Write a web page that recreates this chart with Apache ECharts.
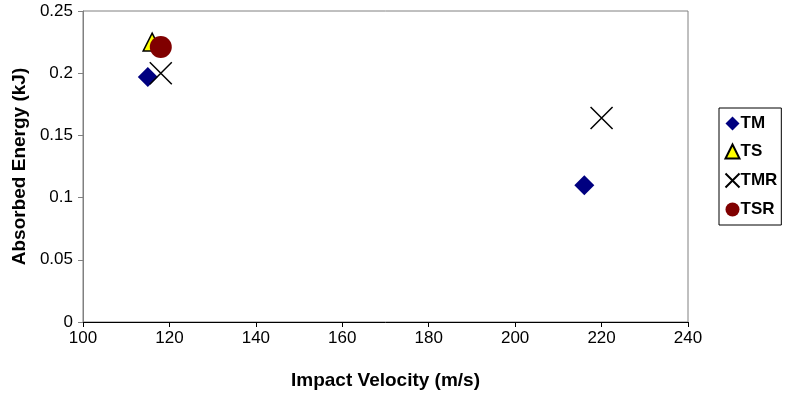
<!DOCTYPE html>
<html>
<head>
<meta charset="utf-8">
<script src="https://cdn.jsdelivr.net/npm/echarts@6/dist/echarts.min.js"></script>
<style>
html, body { margin: 0; padding: 0; background: #fff; }
#main { width: 800px; height: 404px; }
</style>
</head>
<body>
<div id="main"></div>
<script>
// data
var tmData = [[115, 0.197], [216, 0.110]];
var tsData = [[116, 0.225]];
var tmrData = [[118, 0.200], [220, 0.164]];
var tsrData = [[118, 0.221]];
var seriesNames = ['TM', 'TS', 'TMR', 'TSR'];

var crossPath = 'path://M0,0L10,10M10,0L0,10';

var myChart = echarts.init(document.getElementById('main'));
var option = {
    animation: false,
    textStyle: { fontFamily: 'Liberation Sans, Arial, sans-serif' },
    grid: {
        left: 83, right: 112, top: 11, bottom: 82,
        show: true, borderColor: '#808080', borderWidth: 1
    },
    legend: {
        orient: 'vertical',
        left: 719, top: 108,
        data: seriesNames,
        padding: [7, 4, 7, 4],
        itemGap: 11,
        itemWidth: 14, itemHeight: 14,
        borderColor: '#000', borderWidth: 1,
        textStyle: { fontSize: 17, fontWeight: 'bold', color: '#000', padding: [0, 0, 0, -4] }
    },
    xAxis: {
        type: 'value', min: 100, max: 240, interval: 20,
        name: 'Impact Velocity (m/s)', nameLocation: 'middle', nameGap: 49,
        nameTextStyle: { fontSize: 19, fontWeight: 'bold', color: '#000' },
        axisLine: { onZero: false, lineStyle: { color: '#000', width: 1 } },
        axisTick: { show: true, length: 5, lineStyle: { color: '#000' } },
        axisLabel: { fontSize: 17, color: '#000', margin: 8 },
        splitLine: { show: false }
    },
    yAxis: {
        type: 'value', min: 0, max: 0.25, interval: 0.05,
        name: 'Absorbed Energy (kJ)', nameLocation: 'middle', nameGap: 53,
        nameTextStyle: { fontSize: 19, fontWeight: 'bold', color: '#000' },
        axisLine: { show: true, lineStyle: { color: '#808080', width: 1 } },
        axisTick: { show: true, length: 5, lineStyle: { color: '#808080' } },
        axisLabel: { fontSize: 17, color: '#000', margin: 10 },
        splitLine: { show: false }
    },
    series: [
        {
            name: 'TM', type: 'scatter', data: tmData,
            symbol: 'diamond', symbolSize: 20,
            itemStyle: { color: '#000080', opacity: 1 }
        },
        {
            name: 'TS', type: 'scatter', data: tsData,
            symbol: 'triangle', symbolSize: 18,
            itemStyle: { color: '#ffff00', borderColor: '#000', borderWidth: 1.5, opacity: 1 }
        },
        {
            name: 'TMR', type: 'scatter', data: tmrData,
            symbol: crossPath, symbolSize: 22,
            itemStyle: { color: 'none', borderColor: '#000', borderWidth: 1.5, opacity: 1 }
        },
        {
            name: 'TSR', type: 'scatter', data: tsrData,
            symbol: 'circle', symbolSize: 22,
            itemStyle: { color: '#800000', opacity: 1 }
        }
    ]
};
myChart.setOption(option);
</script>
</body>
</html>
